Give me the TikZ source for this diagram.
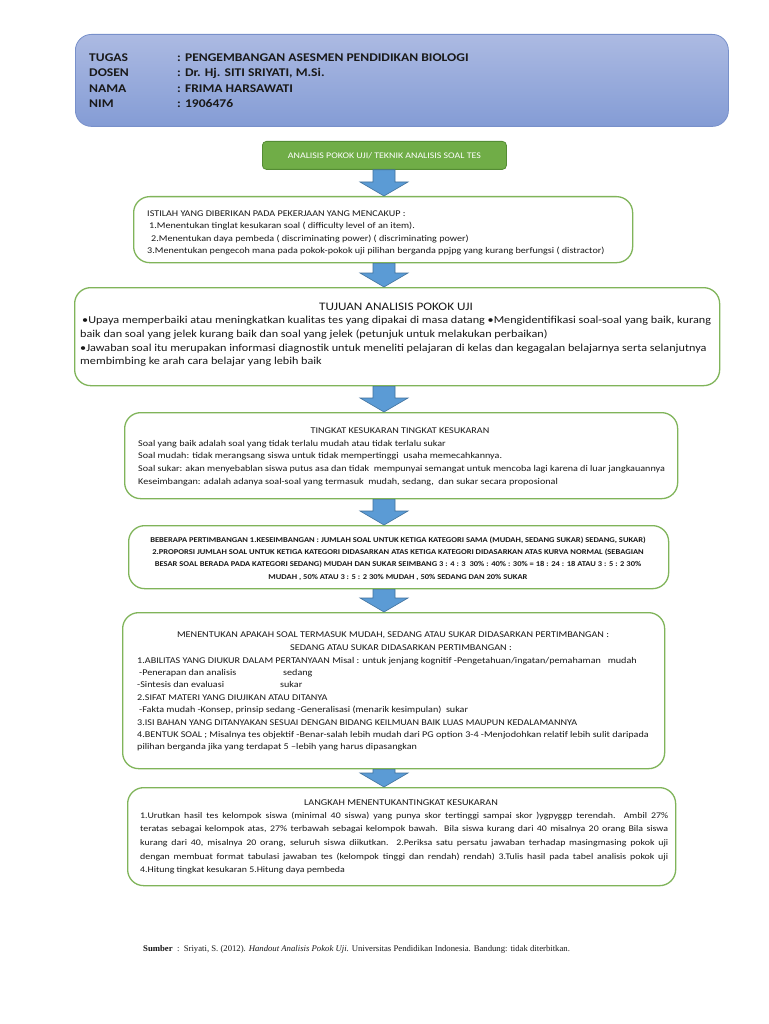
\documentclass[tikz,border=0pt]{standalone}
\usepackage{fontspec}
\setmainfont{Carlito}[FakeStretch=1.15]
\newfontfamily\serifsrc{Liberation Serif}
\usetikzlibrary{calc}
\definecolor{boxgreen}{RGB}{128,180,90}
\definecolor{titlegreen}{RGB}{112,173,71}
\definecolor{titleborder}{RGB}{84,140,52}
\definecolor{arrowblue}{RGB}{91,155,213}
\definecolor{arrowborder}{RGB}{65,113,156}
\definecolor{headtop}{RGB}{172,186,226}
\definecolor{headbot}{RGB}{132,156,213}
\definecolor{headborder}{RGB}{120,144,202}
\newcommand\blockarrow[2]{%
  \path[blockarr] let \p1=(#1.south -| ax), \p2=(#2.north -| ax) in
    (\x1-11pt,\y1) -- (\x1+11pt,\y1) -- (\x1+11pt,\y2+14pt) -- (\x1+24pt,\y2+14pt)
    -- (\x1,\y2) -- (\x1-24pt,\y2+14pt) -- (\x1-11pt,\y2+14pt) -- cycle;}
\begin{document}
\begin{tikzpicture}[x=1pt,y=-1pt,
  box/.style={draw=boxgreen, line width=1.3pt, rounded corners=16pt, fill=white, anchor=north west, inner sep=0pt},
  headbox/.style={draw=headborder, line width=0.8pt, rounded corners=16pt, top color=headtop, bottom color=headbot, anchor=north west, inner sep=0pt},
  titlebox/.style={draw=titleborder, line width=0.8pt, rounded corners=4pt, fill=titlegreen, anchor=north west, inner sep=0pt, text=white, font=\fontsize{8.6}{10}\selectfont},
  txt/.style={anchor=base west, inner sep=0pt, align=left, text=black!90},
  ctxt/.style={anchor=base, inner sep=0pt, align=center, text=black!90},
  blockarr/.style={draw=arrowborder, line width=0.6pt, fill=arrowblue}]
\useasboundingbox[fill=white] (0,0) rectangle (768,1024);
\coordinate (ax) at (384,0);

% header (base anchor of a multi-line node = last line)
\node[headbox, minimum width=653pt, minimum height=92pt] (hd) at (75,34) {};
\node[txt, font=\bfseries\fontsize{11.8}{15.3}\selectfont] (hdtxt) at (89,107.5)
 {\makebox[88pt][l]{TUGAS}: PENGEMBANGAN ASESMEN PENDIDIKAN BIOLOGI\\
  \makebox[88pt][l]{DOSEN}: Dr. Hj. SITI SRIYATI, M.Si.\\
  \makebox[88pt][l]{NAMA}: FRIMA HARSAWATI\\
  \makebox[88pt][l]{NIM}: 1906476};

% title
\node[titlebox, minimum width=244pt, minimum height=28pt] (t0) at (262,141)
 {ANALISIS POKOK UJI/ TEKNIK ANALISIS SOAL TES};

% box 1
\node[box, minimum width=499pt, minimum height=66pt] (b1) at (133,196) {};
\node[txt, font=\fontsize{8.8}{12.3}\selectfont] (b1t) at (147,253.4)
 {ISTILAH YANG DIBERIKAN PADA PEKERJAAN YANG MENCAKUP :\\
  \hspace{2pt}1.Menentukan tinglat kesukaran soal ( difficulty level of an item).\\
  \hspace{4pt}2.Menentukan daya pembeda ( discriminating power) ( discriminating power)\\
  3.Menentukan pengecoh mana pada pokok-pokok uji pilihan berganda ppjpg yang kurang berfungsi ( distractor)};

% box 2
\node[box, minimum width=645pt, minimum height=98pt] (b2) at (74,287) {};
\node[ctxt, font=\fontsize{11.5}{13}\selectfont] (b2h) at (396,310) {TUJUAN ANALISIS POKOK UJI};
\node[txt, font=\fontsize{10.6}{13.8}\selectfont] (b2t) at (80,364.9)
 {\hspace{2pt}•Upaya memperbaiki atau meningkatkan kualitas tes yang dipakai di masa datang •Mengidentifikasi soal-soal yang baik, kurang\\
  baik dan soal yang jelek kurang baik dan soal yang jelek (petunjuk untuk melakukan perbaikan)\\
  •Jawaban soal itu merupakan informasi diagnostik untuk meneliti pelajaran di kelas dan kegagalan belajarnya serta selanjutnya\\
  membimbing ke arah cara belajar yang lebih baik};

% box 3
\node[box, minimum width=553pt, minimum height=86pt] (b3) at (124,412) {};
\node[ctxt, font=\fontsize{8.8}{10}\selectfont] (b3h) at (400,433.5) {TINGKAT KESUKARAN TINGKAT KESUKARAN};
\node[txt, font=\fontsize{8.8}{12.8}\selectfont] (b3t) at (138,484.5)
 {Soal yang baik adalah soal yang tidak terlalu mudah atau tidak terlalu sukar\\
  Soal mudah: tidak merangsang siswa untuk tidak mempertinggi\ \ usaha memecahkannya.\\
  Soal sukar: akan menyebablan siswa putus asa dan tidak\ \ mempunyai semangat untuk mencoba lagi karena di luar jangkauannya\\
  Keseimbangan: adalah adanya soal-soal yang termasuk\ \ mudah, sedang,\ \ dan sukar secara proposional};

% box 4
\node[box, minimum width=540pt, minimum height=63pt] (b4) at (128,525) {};
\node[ctxt, font=\bfseries\fontsize{7.4}{12.2}\selectfont] (b4t) at (398,579)
 {BEBERAPA PERTIMBANGAN 1.KESEIMBANGAN : JUMLAH SOAL UNTUK KETIGA KATEGORI SAMA (MUDAH, SEDANG SUKAR) SEDANG, SUKAR)\\
  2.PROPORSI JUMLAH SOAL UNTUK KETIGA KATEGORI DIDASARKAN ATAS KETIGA KATEGORI DIDASARKAN ATAS KURVA NORMAL (SEBAGIAN\\
  BESAR SOAL BERADA PADA KATEGORI SEDANG) MUDAH DAN SUKAR SEIMBANG 3 : 4 : 3\ \ 30\% : 40\% : 30\% = 18 : 24 : 18 ATAU 3 : 5 : 2 30\%\\
  MUDAH , 50\% ATAU 3 : 5 : 2 30\% MUDAH , 50\% SEDANG DAN 20\% SUKAR};

% box 5
\node[box, minimum width=542pt, minimum height=156pt] (b5) at (122,612) {};
\node[ctxt, font=\fontsize{8.85}{12}\selectfont] (b5h) at (393,637) {MENENTUKAN APAKAH SOAL TERMASUK MUDAH, SEDANG ATAU SUKAR DIDASARKAN PERTIMBANGAN :};
\node[txt, font=\fontsize{8.85}{12}\selectfont] (b5h2) at (290,650) {SEDANG ATAU SUKAR DIDASARKAN PERTIMBANGAN :};
\node[txt, font=\fontsize{8.8}{12.4}\selectfont] (b5t) at (137,749.8)
 {1.ABILITAS YANG DIUKUR DALAM PERTANYAAN Misal : untuk jenjang kognitif -Pengetahuan/ingatan/pemahaman\ \ \ mudah\\
  \makebox[146pt][l]{\hspace{2pt}-Penerapan dan analisis}sedang\\
  \makebox[143pt][l]{-Sintesis dan evaluasi}sukar\\
  2.SIFAT MATERI YANG DIUJIKAN ATAU DITANYA\\
  \hspace{2pt}-Fakta mudah -Konsep, prinsip sedang -Generalisasi (menarik kesimpulan)\ \ sukar\\
  3.ISI BAHAN YANG DITANYAKAN SESUAI DENGAN BIDANG KEILMUAN BAIK LUAS MAUPUN KEDALAMANNYA\\
  4.BENTUK SOAL ; Misalnya tes objektif -Benar-salah lebih mudah dari PG option 3-4 -Menjodohkan relatif lebih sulit daripada\\
  pilihan berganda jika yang terdapat 5 –lebih yang harus dipasangkan};

% box 6
\node[box, minimum width=548pt, minimum height=98pt] (b6) at (127,787) {};
\node[ctxt, font=\fontsize{8.9}{10}\selectfont] (b6h) at (401,805.5) {LANGKAH MENENTUKANTINGKAT KESUKARAN};
\node[txt, font=\fontsize{8.6}{13.7}\selectfont] (b6t) at (140,872.8)
 {\makebox[528pt][s]{1.Urutkan hasil tes kelompok siswa (minimal 40 siswa) yang punya skor tertinggi sampai skor )ygpyggp terendah. Ambil 27\%}\\
  \makebox[528pt][s]{teratas sebagai kelompok atas, 27\% terbawah sebagai kelompok bawah. Bila siswa kurang dari 40 misalnya 20 orang Bila siswa}\\
  \makebox[528pt][s]{kurang dari 40, misalnya 20 orang, seluruh siswa diikutkan. 2.Periksa satu persatu jawaban terhadap masingmasing pokok uji}\\
  \makebox[528pt][s]{dengan membuat format tabulasi jawaban tes (kelompok tinggi dan rendah) rendah) 3.Tulis hasil pada tabel analisis pokok uji}\\
  4.Hitung tingkat kesukaran 5.Hitung daya pembeda};

% arrows
\blockarrow{t0}{b1}
\blockarrow{b1}{b2}
\blockarrow{b2}{b3}
\blockarrow{b3}{b4}
\blockarrow{b4}{b5}
\blockarrow{b5}{b6}

% source
\node[txt, font=\serifsrc\fontsize{8.7}{10}\selectfont] (src) at (143,951)
 {\textbf{Sumber}\ \ :\ \ Sriyati, S. (2012). \textit{Handout Analisis Pokok Uji}. Universitas Pendidikan Indonesia. Bandung: tidak diterbitkan.};
\end{tikzpicture}
\end{document}
